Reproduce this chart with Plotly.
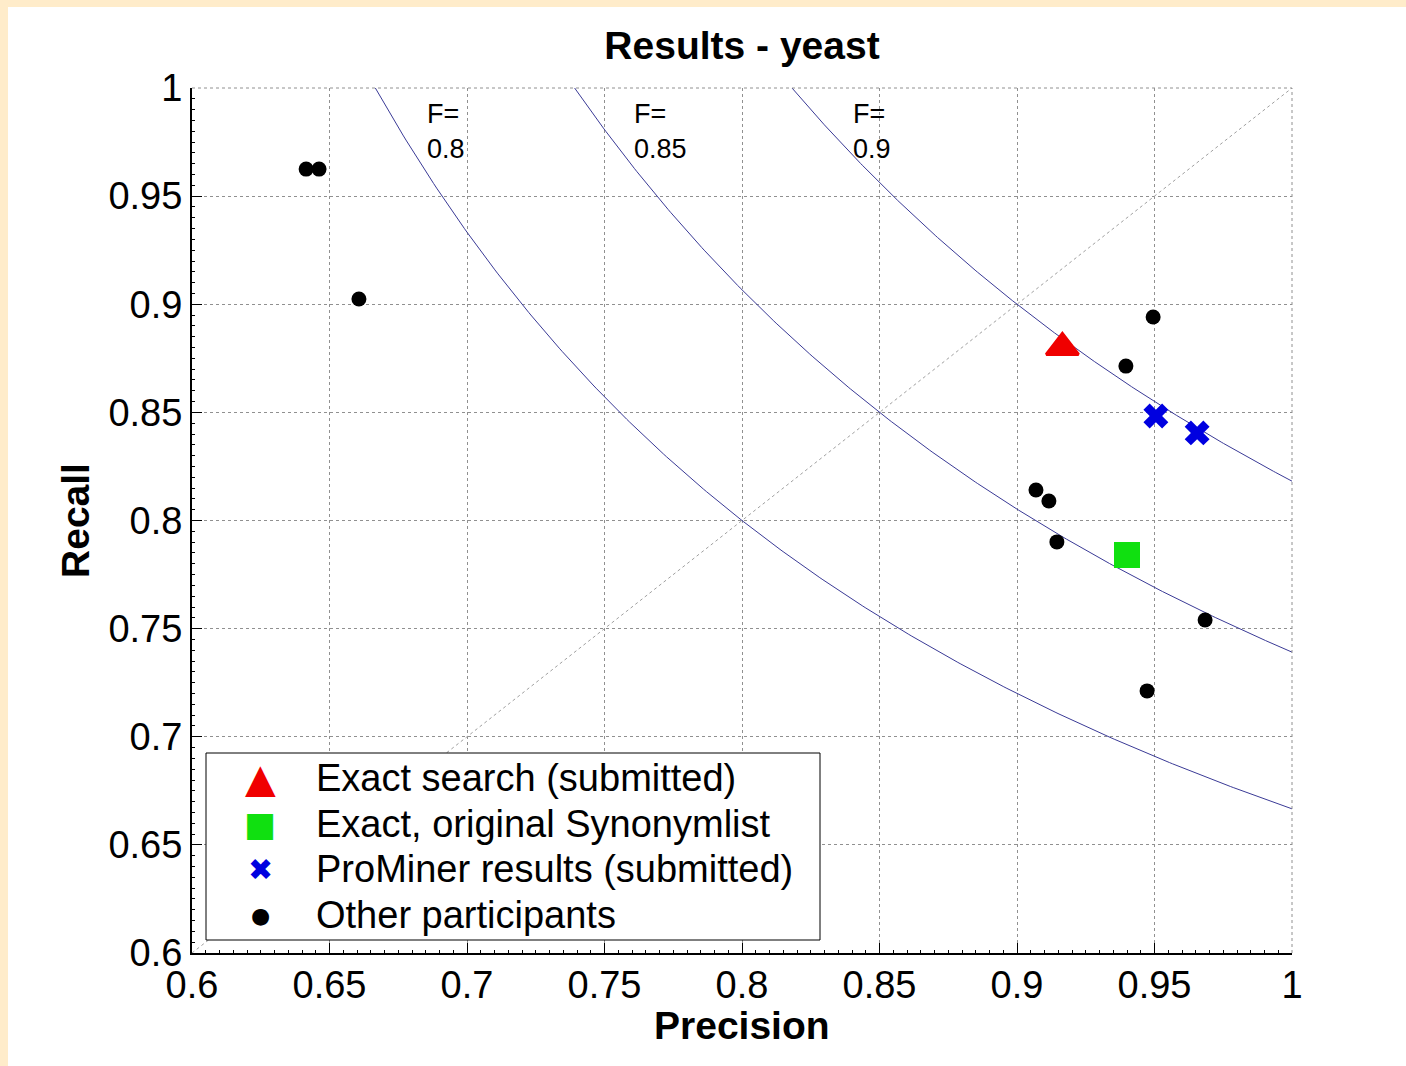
import numpy as np
import plotly.graph_objects as go

# ---- data ----
exact_prec = [0.9165]
exact_rec = [0.880]

syn_prec = [0.940]
syn_rec = [0.784]

prominer_prec = [0.9505, 0.9655]
prominer_rec = [0.8483, 0.8405]

other_prec = [0.6415, 0.6462, 0.6607, 0.9495, 0.9396, 0.9069, 0.9116, 0.9145, 0.9684, 0.9473]
other_rec = [0.9625, 0.9625, 0.9024, 0.8941, 0.8714, 0.8141, 0.8090, 0.7901, 0.7540, 0.7212]

f_levels = [0.8, 0.85, 0.9]
f_label_x = [0.6847, 0.760, 0.8396]
f_label_text = ["F=<br>0.8", "F=<br>0.85", "F=<br>0.9"]

tick_vals = [0.6, 0.65, 0.7, 0.75, 0.8, 0.85, 0.9, 0.95, 1.0]
tick_text = ["0.6", "0.65", "0.7", "0.75", "0.8", "0.85", "0.9", "0.95", "1"]

legend_labels = ["Exact search (submitted)", "Exact, original Synonymlist",
                 "ProMiner results (submitted)", "Other participants"]
legend_glyphs = ["▲", "■", "✖", "●"]
legend_colors = ["#F00000", "#10E010", "#0000E0", "black"]
legend_glyph_sizes = [40, 34, 30, 22]

FONT = "Liberation Sans, Arial, Helvetica, sans-serif"
BEIGE = "#FFECCA"

# plot-area geometry in figure pixels (used for legend / frame placement)
ML, MR, MT, MB = 192, 114, 88, 113
PW, PH = 1100, 865


def px_x(px):
    return px / PW


def px_y(py):
    return 1 - py / PH


fig = go.Figure()

# diagonal P = R reference
fig.add_trace(go.Scatter(x=[0.6, 1.0], y=[0.6, 1.0], mode="lines",
                         line=dict(color="#a0a0a0", width=1, dash="dot"),
                         showlegend=False, hoverinfo="skip"))

# iso-F curves  R = F*P / (2P - F)
for f in f_levels:
    p0 = f / (2 - f)
    p = np.linspace(p0, 1.0, 300)
    r = f * p / (2 * p - f)
    fig.add_trace(go.Scatter(x=p, y=r, mode="lines",
                             line=dict(color="#3a3a96", width=1),
                             showlegend=False, hoverinfo="skip"))

fig.add_trace(go.Scatter(x=other_prec, y=other_rec, mode="markers",
                         name=legend_labels[3], showlegend=False,
                         marker=dict(symbol="circle", size=15, color="black")))
fig.add_trace(go.Scatter(x=prominer_prec, y=prominer_rec, mode="markers",
                         name=legend_labels[2], showlegend=False,
                         marker=dict(symbol="x", size=22, color="#0000E0")))
fig.add_trace(go.Scatter(x=syn_prec, y=syn_rec, mode="markers",
                         name=legend_labels[1], showlegend=False,
                         marker=dict(symbol="square", size=22, color="#10E010",
                                     line=dict(color="#10E010", width=4))))
fig.add_trace(go.Scatter(x=exact_prec, y=exact_rec, mode="markers",
                         name=legend_labels[0], showlegend=False,
                         marker=dict(symbol="triangle-up", size=28, color="#F00000",
                                     line=dict(color="#F00000", width=3))))

for xl, tx in zip(f_label_x, f_label_text):
    fig.add_annotation(x=xl, y=0.9958, xref="x", yref="y", text=tx, showarrow=False,
                       xanchor="left", yanchor="top", align="left",
                       font=dict(family=FONT, size=27, color="black"))

axis_common = dict(
    range=[0.6, 1.0], tickvals=tick_vals, ticktext=tick_text,
    showgrid=True, gridcolor="#909090", gridwidth=1, griddash="dot",
    showline=True, linecolor="black", linewidth=2, mirror=False,
    ticks="inside", ticklen=10, tickcolor="black", tickwidth=1,
    minor=dict(dtick=0.005, ticks="inside", ticklen=3, tickcolor="black", showgrid=False),
    zeroline=False, tickfont=dict(family=FONT, size=38, color="black"),
    automargin=False, fixedrange=True,
)

fig.update_xaxes(**axis_common, ticklabelstandoff=-3)
fig.update_yaxes(**axis_common,
                 title=dict(text="<b>Recall</b>", font=dict(family=FONT, size=39, color="black"),
                            standoff=7))

# x-axis title placed below the tick labels
fig.add_annotation(x=0.5, y=px_y(937), xref="paper", yref="paper", text="<b>Precision</b>",
                   showarrow=False, xanchor="center", yanchor="middle",
                   font=dict(family=FONT, size=39, color="black"))

# dotted top and right frame (as in the reference)
fig.add_shape(type="line", xref="paper", yref="paper", x0=0, x1=1, y0=1, y1=1,
              line=dict(color="#909090", width=1, dash="dot"))
fig.add_shape(type="line", xref="paper", yref="paper", x0=1, x1=1, y0=0, y1=1,
              line=dict(color="#909090", width=1, dash="dot"))

# beige page border on the left and top
fig.add_shape(type="rect", xref="paper", yref="paper",
              x0=px_x(-ML), x1=px_x(-ML + 8), y0=px_y(PH + MB), y1=px_y(-MT),
              fillcolor=BEIGE, line=dict(width=0), layer="below")
fig.add_shape(type="rect", xref="paper", yref="paper",
              x0=px_x(-ML), x1=px_x(PW + MR), y0=px_y(-MT + 7), y1=px_y(-MT),
              fillcolor=BEIGE, line=dict(width=0), layer="below")

# legend box drawn in the lower-left corner
fig.add_shape(type="rect", xref="paper", yref="paper",
              x0=px_x(14), x1=px_x(628), y0=px_y(852), y1=px_y(665),
              fillcolor="white", line=dict(color="black", width=1), layer="above")
legend_rows_px = [690, 736, 781, 827]
for lab, gl, col, gs, ry in zip(legend_labels, legend_glyphs, legend_colors,
                                legend_glyph_sizes, legend_rows_px):
    fig.add_annotation(x=px_x(68), y=px_y(ry), xref="paper", yref="paper", text=gl,
                       showarrow=False, xanchor="center", yanchor="middle",
                       font=dict(family="DejaVu Sans", size=gs, color=col))
    fig.add_annotation(x=px_x(122), y=px_y(ry), xref="paper", yref="paper", text=lab,
                       showarrow=False, xanchor="left", yanchor="middle",
                       font=dict(family=FONT, size=38, color="black"))

fig.update_layout(
    width=ML + PW + MR, height=MT + PH + MB,
    margin=dict(l=ML, r=MR, t=MT, b=MB),
    paper_bgcolor="white", plot_bgcolor="white",
    font=dict(family=FONT, color="black"),
    title=dict(text="<b>Results - yeast</b>", x=742 / 1406, xanchor="center",
               y=1 - 45 / 1066, yanchor="middle",
               font=dict(family=FONT, size=39, color="black")),
    showlegend=False,
)

fig.write_html("out.html",
               config={"displayModeBar": False},
               post_script="document.body.style.margin='0';"
                           "document.body.style.background='white';"
                           "document.body.style.overflow='hidden';")
